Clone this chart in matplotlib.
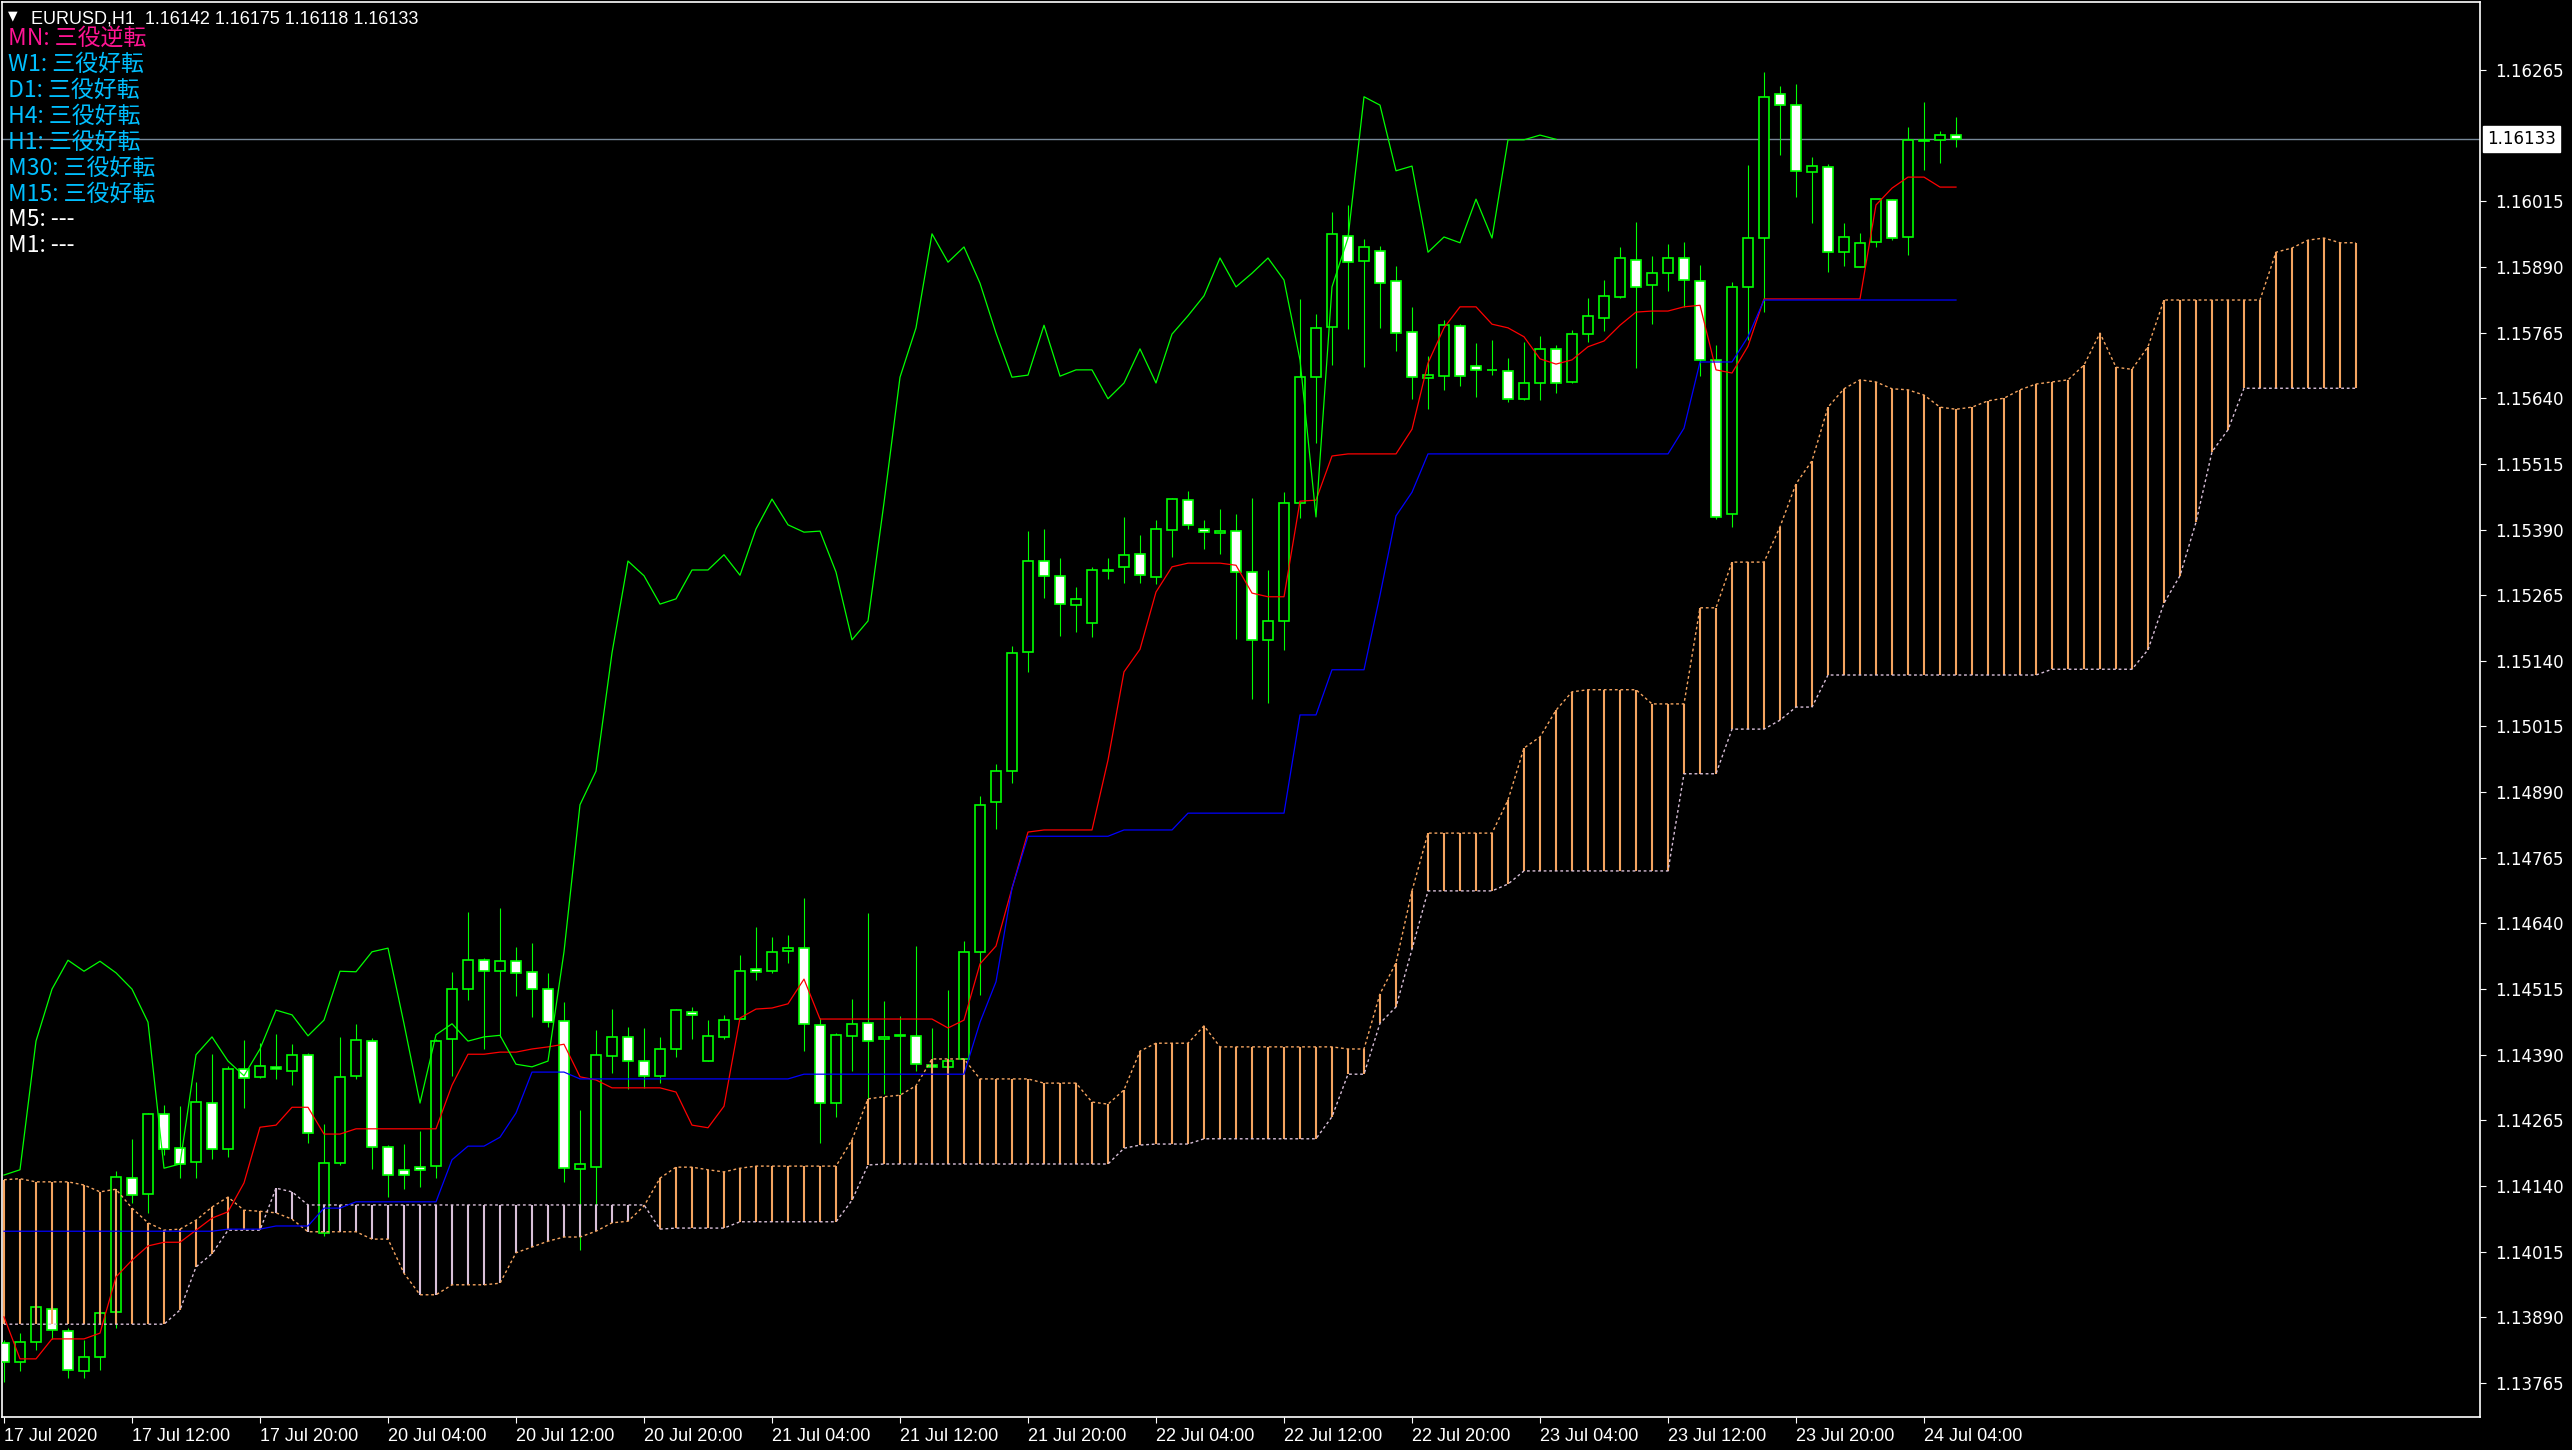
import numpy as np
import matplotlib
matplotlib.use("Agg")
import matplotlib.pyplot as plt

# ── data: EURUSD H1, 17 Jul 04:00 .. 24 Jul 06:00 (123 bars) ──────────────────
open_ = [
    1.13841, 1.13805, 1.13843, 1.13906, 1.13864, 1.13788, 1.13815, 1.13900, 1.14155, 1.14125,
    1.14277, 1.14212, 1.14186, 1.14298, 1.14211, 1.14363, 1.14348, 1.14367, 1.14359, 1.14390,
    1.14051, 1.14184, 1.14350, 1.14416, 1.14214, 1.14171, 1.14176, 1.14178, 1.14420, 1.14515,
    1.14570, 1.14549, 1.14568, 1.14548, 1.14515, 1.14454, 1.14172, 1.14176, 1.14388, 1.14424,
    1.14378, 1.14350, 1.14401, 1.14471, 1.14378, 1.14424, 1.14458, 1.14553, 1.14549, 1.14588,
    1.14593, 1.14447, 1.14298, 1.14426, 1.14450, 1.14420, 1.14426, 1.14426, 1.14370, 1.14367,
    1.14382, 1.14586, 1.14871, 1.14930, 1.15157, 1.15330, 1.15302, 1.15246, 1.15212, 1.15312,
    1.15319, 1.15343, 1.15300, 1.15389, 1.15446, 1.15391, 1.15383, 1.15387, 1.15309, 1.15180,
    1.15216, 1.15441, 1.15680, 1.15776, 1.15949, 1.15901, 1.15920, 1.15863, 1.15766, 1.15678,
    1.15682, 1.15777, 1.15701, 1.15693, 1.15692, 1.15639, 1.15669, 1.15734, 1.15671, 1.15762,
    1.15793, 1.15833, 1.15903, 1.15856, 1.15878, 1.15907, 1.15863, 1.15713, 1.15420, 1.15852,
    1.15945, 1.16219, 1.16198, 1.16071, 1.16080, 1.15918, 1.15890, 1.15938, 1.16017, 1.15947,
    1.16130, 1.16132, 1.16142,
]
high = [
    1.13847, 1.13860, 1.13914, 1.13910, 1.13870, 1.13847, 1.13900, 1.14169, 1.14230, 1.14279,
    1.14294, 1.14292, 1.14338, 1.14391, 1.14369, 1.14418, 1.14412, 1.14429, 1.14410, 1.14393,
    1.14258, 1.14424, 1.14449, 1.14421, 1.14218, 1.14220, 1.14245, 1.14420, 1.14548, 1.14662,
    1.14574, 1.14669, 1.14595, 1.14603, 1.14546, 1.14490, 1.14285, 1.14437, 1.14477, 1.14443,
    1.14441, 1.14424, 1.14477, 1.14481, 1.14456, 1.14466, 1.14580, 1.14633, 1.14614, 1.14618,
    1.14688, 1.14460, 1.14431, 1.14496, 1.14660, 1.14492, 1.14464, 1.14597, 1.14441, 1.14513,
    1.14607, 1.14883, 1.14944, 1.15168, 1.15387, 1.15391, 1.15336, 1.15281, 1.15319, 1.15336,
    1.15414, 1.15380, 1.15408, 1.15450, 1.15463, 1.15408, 1.15429, 1.15420, 1.15450, 1.15313,
    1.15461, 1.15829, 1.15800, 1.15995, 1.16008, 1.15943, 1.15930, 1.15892, 1.15814, 1.15720,
    1.15789, 1.15781, 1.15745, 1.15751, 1.15717, 1.15747, 1.15758, 1.15741, 1.15770, 1.15831,
    1.15865, 1.15928, 1.15976, 1.15911, 1.15934, 1.15937, 1.15894, 1.15741, 1.15861, 1.16084,
    1.16261, 1.16234, 1.16238, 1.16099, 1.16086, 1.15974, 1.15955, 1.16019, 1.16019, 1.16156,
    1.16204, 1.16149, 1.16175,
]
low = [
    1.13767, 1.13788, 1.13828, 1.13849, 1.13775, 1.13775, 1.13790, 1.13870, 1.14108, 1.14089,
    1.14199, 1.14155, 1.14155, 1.14191, 1.14195, 1.14289, 1.14346, 1.14344, 1.14332, 1.14222,
    1.14045, 1.14180, 1.14344, 1.14172, 1.14119, 1.14134, 1.14138, 1.14155, 1.14350, 1.14494,
    1.14401, 1.14424, 1.14502, 1.14462, 1.14443, 1.14148, 1.14018, 1.14104, 1.14355, 1.14325,
    1.14327, 1.14336, 1.14386, 1.14420, 1.14378, 1.14420, 1.14458, 1.14532, 1.14546, 1.14565,
    1.14397, 1.14222, 1.14271, 1.14359, 1.14304, 1.14315, 1.14315, 1.14359, 1.14366, 1.14365,
    1.14380, 1.14504, 1.14820, 1.14907, 1.15119, 1.15260, 1.15187, 1.15195, 1.15185, 1.15296,
    1.15288, 1.15288, 1.15286, 1.15338, 1.15391, 1.15353, 1.15343, 1.15182, 1.15067, 1.15060,
    1.15161, 1.15412, 1.15555, 1.15703, 1.15772, 1.15699, 1.15774, 1.15730, 1.15639, 1.15619,
    1.15656, 1.15663, 1.15642, 1.15684, 1.15633, 1.15637, 1.15637, 1.15650, 1.15669, 1.15747,
    1.15768, 1.15831, 1.15698, 1.15781, 1.15844, 1.15814, 1.15682, 1.15410, 1.15395, 1.15751,
    1.15804, 1.16103, 1.16023, 1.15974, 1.15880, 1.15892, 1.15890, 1.15928, 1.15941, 1.15913,
    1.16075, 1.16088, 1.16118,
]
close = [
    1.13805, 1.13843, 1.13910, 1.13866, 1.13790, 1.13815, 1.13898, 1.14157, 1.14123, 1.14277,
    1.14211, 1.14182, 1.14300, 1.14211, 1.14363, 1.14346, 1.14369, 1.14363, 1.14390, 1.14241,
    1.14184, 1.14348, 1.14418, 1.14214, 1.14161, 1.14161, 1.14171, 1.14416, 1.14515, 1.14570,
    1.14549, 1.14568, 1.14546, 1.14515, 1.14452, 1.14174, 1.14182, 1.14390, 1.14424, 1.14378,
    1.14350, 1.14401, 1.14475, 1.14466, 1.14426, 1.14456, 1.14549, 1.14548, 1.14586, 1.14593,
    1.14449, 1.14298, 1.14428, 1.14449, 1.14416, 1.14424, 1.14427, 1.14372, 1.14367, 1.14378,
    1.14586, 1.14866, 1.14930, 1.15155, 1.15330, 1.15302, 1.15248, 1.15258, 1.15313, 1.15313,
    1.15342, 1.15303, 1.15391, 1.15448, 1.15399, 1.15385, 1.15387, 1.15309, 1.15180, 1.15216,
    1.15441, 1.15680, 1.15774, 1.15953, 1.15899, 1.15928, 1.15859, 1.15764, 1.15680, 1.15684,
    1.15779, 1.15682, 1.15694, 1.15694, 1.15639, 1.15669, 1.15734, 1.15669, 1.15762, 1.15797,
    1.15835, 1.15907, 1.15852, 1.15878, 1.15907, 1.15865, 1.15713, 1.15414, 1.15852, 1.15945,
    1.16214, 1.16198, 1.16073, 1.16082, 1.15918, 1.15947, 1.15936, 1.16019, 1.15945, 1.16132,
    1.16132, 1.16141, 1.16133,
]

# Ichimoku lines as drawn on the chart
tenkan = [
    1.13891, 1.13811, 1.13811, 1.13849, 1.13849, 1.13849, 1.13860, 1.13967, 1.13999, 1.14026,
    1.14033, 1.14033, 1.14056, 1.14079, 1.14091, 1.14146, 1.14252, 1.14256, 1.14290, 1.14290,
    1.14239, 1.14239, 1.14249, 1.14249, 1.14249, 1.14249, 1.14249, 1.14249, 1.14332, 1.14391,
    1.14391, 1.14395, 1.14395, 1.14401, 1.14405, 1.14410, 1.14348, 1.14342, 1.14327, 1.14327,
    1.14327, 1.14327, 1.14319, 1.14256, 1.14251, 1.14292, 1.14460, 1.14477, 1.14479, 1.14487,
    1.14534, 1.14458, 1.14458, 1.14458, 1.14458, 1.14458, 1.14458, 1.14458, 1.14458, 1.14441,
    1.14456, 1.14563, 1.14597, 1.14707, 1.14814, 1.14818, 1.14818, 1.14818, 1.14818, 1.14951,
    1.15119, 1.15162, 1.15271, 1.15319, 1.15326, 1.15326, 1.15326, 1.15322, 1.15269, 1.15262,
    1.15262, 1.15444, 1.15446, 1.15530, 1.15534, 1.15534, 1.15534, 1.15534, 1.15581, 1.15707,
    1.15774, 1.15814, 1.15814, 1.15781, 1.15774, 1.15757, 1.15715, 1.15705, 1.15713, 1.15738,
    1.15749, 1.15779, 1.15804, 1.15806, 1.15806, 1.15814, 1.15817, 1.15694, 1.15688, 1.15739,
    1.15829, 1.15829, 1.15829, 1.15829, 1.15829, 1.15829, 1.15829, 1.16008, 1.16040, 1.16061,
    1.16061, 1.16042, 1.16042,
]
kijun = [
    1.14054, 1.14054, 1.14054, 1.14054, 1.14054, 1.14054, 1.14054, 1.14054, 1.14054, 1.14054,
    1.14054, 1.14054, 1.14054, 1.14054, 1.14058, 1.14058, 1.14058, 1.14064, 1.14064, 1.14064,
    1.14098, 1.14098, 1.14110, 1.14110, 1.14110, 1.14110, 1.14110, 1.14110, 1.14190, 1.14216,
    1.14216, 1.14233, 1.14279, 1.14357, 1.14357, 1.14357, 1.14344, 1.14344, 1.14344, 1.14344,
    1.14344, 1.14344, 1.14344, 1.14344, 1.14344, 1.14344, 1.14344, 1.14344, 1.14344, 1.14344,
    1.14353, 1.14353, 1.14353, 1.14353, 1.14353, 1.14353, 1.14353, 1.14353, 1.14353, 1.14353,
    1.14353, 1.14452, 1.14529, 1.14707, 1.14806, 1.14806, 1.14806, 1.14806, 1.14806, 1.14806,
    1.14818, 1.14818, 1.14818, 1.14818, 1.14850, 1.14850, 1.14850, 1.14850, 1.14850, 1.14850,
    1.14850, 1.15037, 1.15037, 1.15123, 1.15123, 1.15123, 1.15265, 1.15416, 1.15461, 1.15534,
    1.15534, 1.15534, 1.15534, 1.15534, 1.15534, 1.15534, 1.15534, 1.15534, 1.15534, 1.15534,
    1.15534, 1.15534, 1.15534, 1.15534, 1.15534, 1.15583, 1.15709, 1.15709, 1.15709, 1.15757,
    1.15827, 1.15827, 1.15827, 1.15827, 1.15827, 1.15827, 1.15827, 1.15827, 1.15827, 1.15827,
    1.15827, 1.15827, 1.15827,
]
# cloud, 148 bars (25 bars beyond the last candle)
span_a = [
    1.14152, 1.14154, 1.14148, 1.14148, 1.14148, 1.14142, 1.14129, 1.14134, 1.14098, 1.14070,
    1.14056, 1.14058, 1.14075, 1.14100, 1.14119, 1.14094, 1.14092, 1.14089, 1.14077, 1.14053,
    1.14053, 1.14053, 1.14053, 1.14039, 1.14039, 1.13974, 1.13933, 1.13933, 1.13952, 1.13952,
    1.13952, 1.13955, 1.14013, 1.14024, 1.14035, 1.14043, 1.14043, 1.14054, 1.14070, 1.14073,
    1.14102, 1.14155, 1.14176, 1.14176, 1.14171, 1.14167, 1.14174, 1.14178, 1.14178, 1.14178,
    1.14178, 1.14178, 1.14178, 1.14228, 1.14306, 1.14310, 1.14313, 1.14331, 1.14382, 1.14382,
    1.14382, 1.14344, 1.14344, 1.14344, 1.14344, 1.14336, 1.14336, 1.14336, 1.14300, 1.14296,
    1.14323, 1.14397, 1.14412, 1.14412, 1.14412, 1.14445, 1.14405, 1.14405, 1.14405, 1.14405,
    1.14405, 1.14405, 1.14405, 1.14405, 1.14401, 1.14401, 1.14506, 1.14565, 1.14702, 1.14812,
    1.14812, 1.14812, 1.14812, 1.14812, 1.14875, 1.14974, 1.14995, 1.15046, 1.15081, 1.15085,
    1.15085, 1.15085, 1.15085, 1.15058, 1.15058, 1.15058, 1.15241, 1.15241, 1.15328, 1.15328,
    1.15328, 1.15395, 1.15477, 1.15521, 1.15623, 1.15658, 1.15675, 1.15671, 1.15658, 1.15656,
    1.15646, 1.15623, 1.15619, 1.15623, 1.15635, 1.15640, 1.15656, 1.15667, 1.15671, 1.15675,
    1.15703, 1.15764, 1.15699, 1.15695, 1.15738, 1.15827, 1.15827, 1.15827, 1.15827, 1.15827,
    1.15827, 1.15827, 1.15918, 1.15926, 1.15941, 1.15945, 1.15936, 1.15936,
]
span_b = [
    1.13877, 1.13877, 1.13877, 1.13877, 1.13877, 1.13877, 1.13877, 1.13877, 1.13877, 1.13877,
    1.13877, 1.13904, 1.13986, 1.14011, 1.14056, 1.14056, 1.14056, 1.14136, 1.14129, 1.14104,
    1.14104, 1.14104, 1.14104, 1.14104, 1.14104, 1.14104, 1.14104, 1.14104, 1.14104, 1.14104,
    1.14104, 1.14104, 1.14104, 1.14104, 1.14104, 1.14104, 1.14104, 1.14104, 1.14104, 1.14104,
    1.14104, 1.14058, 1.14060, 1.14060, 1.14060, 1.14060, 1.14072, 1.14072, 1.14072, 1.14072,
    1.14072, 1.14072, 1.14072, 1.14113, 1.14180, 1.14182, 1.14182, 1.14182, 1.14182, 1.14182,
    1.14182, 1.14182, 1.14182, 1.14182, 1.14182, 1.14182, 1.14182, 1.14182, 1.14182, 1.14182,
    1.14212, 1.14218, 1.14220, 1.14220, 1.14220, 1.14230, 1.14230, 1.14230, 1.14230, 1.14230,
    1.14230, 1.14230, 1.14230, 1.14272, 1.14353, 1.14353, 1.14450, 1.14481, 1.14591, 1.14702,
    1.14702, 1.14702, 1.14702, 1.14702, 1.14715, 1.14740, 1.14740, 1.14740, 1.14740, 1.14740,
    1.14740, 1.14740, 1.14740, 1.14740, 1.14740, 1.14925, 1.14925, 1.14925, 1.15010, 1.15010,
    1.15010, 1.15027, 1.15052, 1.15052, 1.15113, 1.15113, 1.15113, 1.15113, 1.15113, 1.15113,
    1.15113, 1.15113, 1.15113, 1.15113, 1.15113, 1.15113, 1.15113, 1.15113, 1.15124, 1.15124,
    1.15124, 1.15124, 1.15124, 1.15124, 1.15161, 1.15250, 1.15302, 1.15404, 1.15538, 1.15580,
    1.15659, 1.15659, 1.15659, 1.15659, 1.15659, 1.15659, 1.15659, 1.15659,
]
CHIKOU_SHIFT = 25

x_labels = ["17 Jul 2020", "17 Jul 12:00", "17 Jul 20:00", "20 Jul 04:00", "20 Jul 12:00",
            "20 Jul 20:00", "21 Jul 04:00", "21 Jul 12:00", "21 Jul 20:00", "22 Jul 04:00",
            "22 Jul 12:00", "22 Jul 20:00", "23 Jul 04:00", "23 Jul 12:00", "23 Jul 20:00",
            "24 Jul 04:00"]
y_ticks = [1.13765, 1.13890, 1.14015, 1.14140, 1.14265, 1.14390, 1.14515, 1.14640, 1.14765,
           1.14890, 1.15015, 1.15140, 1.15265, 1.15390, 1.15515, 1.15640, 1.15765, 1.15890,
           1.16015, 1.16265]
bid = 1.16133
header = "EURUSD,H1  1.16142 1.16175 1.16118 1.16133"
status = [("MN: 三役逆転", "#ff1493"), ("W1: 三役好転", "#00bfff"), ("D1: 三役好転", "#00bfff"),
          ("H4: 三役好転", "#00bfff"), ("H1: 三役好転", "#00bfff"), ("M30: 三役好転", "#00bfff"),
          ("M15: 三役好転", "#00bfff"), ("M5: ---", "white"), ("M1: ---", "white")]

# ── figure ─────────────────────────────────────────────────────────────────────
W, H = 2572, 1450
fig = plt.figure(figsize=(W / 100, H / 100), dpi=100, facecolor="black")
ax = fig.add_axes([2 / W, 33 / H, 2478 / W, 1415 / H], facecolor="black")

o = np.array(open_); c = np.array(close); hi = np.array(high); lo = np.array(low)
n = len(o)
x = np.arange(n)
up = c >= o

ax.vlines(x, lo, hi, color="#00ff00", lw=0.8, zorder=2)
ax.bar(x, np.abs(c - o), bottom=np.minimum(o, c), width=0.66,
       color=np.where(up, "black", "white"), edgecolor="#00ff00", linewidth=1.2, zorder=3)

# cloud
sa = np.array(span_a); sb = np.array(span_b)
xc = np.arange(len(sa))
ax.vlines(xc, sa, sb, colors=np.where(sa >= sb, "#f4a460", "#d8bfd8"), lw=1.5, zorder=4)
ax.plot(xc, sa, color="#f4a460", lw=1.0, ls=(0, (2, 2)), zorder=4)
ax.plot(xc, sb, color="#d8bfd8", lw=1.0, ls=(0, (2, 2)), zorder=4)

# tenkan / kijun / chikou
ax.plot(x, tenkan, color="#ff0000", lw=0.9, zorder=5)
ax.plot(x, kijun, color="#0000ff", lw=0.9, zorder=5)
ax.plot(x[CHIKOU_SHIFT:] - CHIKOU_SHIFT, c[CHIKOU_SHIFT:], color="#00ff00", lw=0.9, zorder=5)

ax.axhline(bid, color="#778899", lw=1.0, zorder=1.5)

ax.set_xlim(-0.125, 154.75)
ax.set_ylim(1.137003, 1.163944)

for s in ax.spines.values():
    s.set_color("white")
    s.set_linewidth(1.2)

ax.yaxis.tick_right()
ax.set_yticks(y_ticks)
ax.set_yticklabels([f"{v:.5f}" for v in y_ticks])
ax.tick_params(axis="y", colors="white", length=4, pad=7, labelsize=12)

ax.set_xticks(np.arange(0, 8 * len(x_labels), 8))
ax.set_xticklabels(x_labels, ha="left")
ax.tick_params(axis="x", colors="white", length=4, pad=4)
for t in ax.get_xticklabels():
    t.set_fontfamily(["Liberation Sans", "DejaVu Sans"])
    t.set_fontsize(13)

ax.annotate(f"{bid:.5f}", xy=(1, bid), xycoords=("axes fraction", "data"),
            xytext=(7, 0), textcoords="offset pixels", ha="left", va="center",
            fontsize=12, color="black", annotation_clip=False,
            bbox=dict(boxstyle="square,pad=0.25", fc="white", ec="white"))

# header + status list
fig.text(8 / W, 1 - 16 / H, "▼", color="white", fontsize=9, va="center")
fig.text(31 / W, 1 - 23 / H, header, color="white", fontsize=13,
         family=["Liberation Sans", "DejaVu Sans"], va="baseline")
for k, (txt, col) in enumerate(status):
    fig.text(8 / W, 1 - (45 + 25.9 * k) / H, txt, color=col, fontsize=16.5,
             family=["Noto Sans CJK JP", "DejaVu Sans"], va="baseline")

fig.savefig("out.png", dpi=100, facecolor="black")
